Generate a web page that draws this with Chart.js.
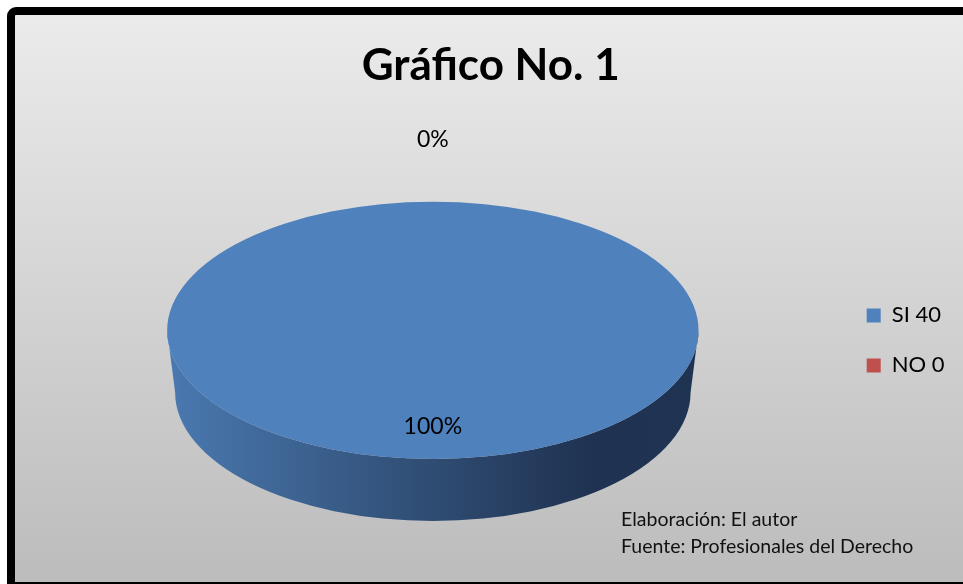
<!DOCTYPE html>
<html>
<head>
<meta charset="utf-8">
<script src="https://cdn.jsdelivr.net/npm/chart.js@4"></script>
<style>
  html, body { margin: 0; padding: 0; background: #fff; overflow: hidden; }
  #frame {
    position: absolute; left: 7px; top: 7px;
    width: 1000px; height: 567px;
    border: 8px solid #000; border-radius: 9px 0 0 0;
    background: linear-gradient(#ebebeb, #bcbcbc);
  }
  #chart { position: absolute; left: 0; top: 0; }
</style>
</head>
<body>
<div id="frame"></div>
<canvas id="chart" width="963" height="584"></canvas>
<script>
const chartTitle = 'Gráfico No. 1';
const categories = ['SI 40', 'NO 0'];
const respuestas = [40, 0];
const sliceColors = ['#4F81BD', '#C0504D'];
const notes = ['Elaboración: El autor', 'Fuente: Profesionales del Derecho'];

// look of the tilted pie
const ASPECT = 2.066;  // horizontal stretch of the round pie
const DEPTH = 62;      // height of the side wall

Chart.defaults.font.family = 'Lato';

const pie3d = {
    id: 'pie3d',
    beforeDatasetsDraw(chart) {
        const ctx = chart.ctx;
        const arc = chart.getDatasetMeta(0).data[0];
        const x = arc.x, y = arc.y, r = arc.outerRadius;
        const rx = r * ASPECT;

        // side wall
        const g = ctx.createLinearGradient(x - rx, 0, x + rx, 0);
        g.addColorStop(0, '#4a79b0');
        g.addColorStop(0.5, '#2f4c72');
        g.addColorStop(0.8, '#1f3251');
        g.addColorStop(1, '#1f3352');
        ctx.save();
        ctx.beginPath();
        ctx.ellipse(x, y, rx, r, 0, 0, Math.PI, false);
        ctx.ellipse(x, y + DEPTH, rx * 0.97, r, 0, Math.PI, 0, true);
        ctx.closePath();
        ctx.fillStyle = g;
        ctx.fill();
        ctx.restore();

        // stretch the slices into an ellipse
        ctx.save();
        ctx.translate(x, y);
        ctx.scale(ASPECT, 1);
        ctx.translate(-x, -y);
    },
    afterDatasetsDraw(chart) {
        const ctx = chart.ctx;
        ctx.restore();

        const meta = chart.getDatasetMeta(0);
        const total = respuestas.reduce((a, b) => a + b, 0);
        ctx.save();
        ctx.font = '23px Lato';
        ctx.fillStyle = '#000';
        ctx.textAlign = 'center';
        ctx.textBaseline = 'middle';
        meta.data.forEach((a, i) => {
            const mid = (a.startAngle + a.endAngle) / 2;
            const dist = respuestas[i] > 0 ? a.outerRadius * 0.75 : a.outerRadius + DEPTH;
            const lx = a.x + Math.cos(mid) * dist * ASPECT;
            const ly = a.y + Math.sin(mid) * dist;
            ctx.fillText(Math.round(respuestas[i] / total * 100) + '%', lx, ly);
        });
        ctx.restore();
    },
    afterDraw(chart) {
        const ctx = chart.ctx;
        ctx.save();
        ctx.font = '19.5px Lato';
        ctx.fillStyle = '#111';
        ctx.textAlign = 'left';
        ctx.textBaseline = 'alphabetic';
        notes.forEach((t, i) => ctx.fillText(t, 621, 526 + i * 27));
        ctx.restore();
    }
};

new Chart(document.getElementById('chart'), {
    type: 'pie',
    data: {
        labels: categories,
        datasets: [{
            data: respuestas,
            backgroundColor: sliceColors,
            borderWidth: 0,
            hoverOffset: 0
        }]
    },
    options: {
        responsive: false,
        animation: false,
        events: [],
        layout: { padding: { left: 27, right: 8.5, top: 0, bottom: 125 } },
        plugins: {
            title: {
                display: true,
                text: chartTitle,
                color: '#000',
                font: { size: 44, weight: 'bold', lineHeight: 1.2 },
                padding: { top: 39, bottom: 110 }
            },
            legend: {
                position: 'right',
                fullSize: false,
                title: { display: true, text: '', padding: 0, font: { size: 20, lineHeight: 1 } },
                labels: {
                    boxWidth: 14,
                    boxHeight: 14,
                    padding: 28,
                    color: '#000',
                    font: { size: 22 }
                }
            },
            tooltip: { enabled: false }
        }
    },
    plugins: [pie3d]
});
</script>
</body>
</html>
